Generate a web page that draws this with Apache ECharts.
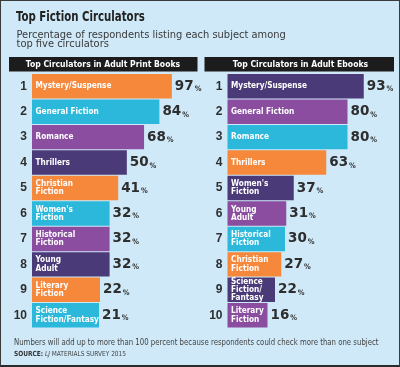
<!DOCTYPE html>
<html><head><meta charset="utf-8">
<script src="https://cdn.jsdelivr.net/npm/echarts@6/dist/echarts.min.js"></script>
<style>html,body{margin:0;padding:0;background:#cfe9f8;}#c{width:400px;height:367px;box-sizing:border-box;border:1px solid #3a3a3a;border-bottom:2px solid #2a2a2a;}</style>
</head><body><div id="c"></div>
<script>
const ranks = ['1','2','3','4','5','6','7','8','9','10'];
const printSubjects = ['Mystery/Suspense','General Fiction','Romance','Thrillers','Christian\nFiction',"Women's\nFiction",'Historical\nFiction','Young\nAdult','Literary\nFiction','Science\nFiction/Fantasy'];
const printValues = [97,84,68,50,41,32,32,32,22,21];
const ebookSubjects = ['Mystery/Suspense','General Fiction','Romance','Thrillers',"Women's\nFiction",'Young\nAdult','Historical\nFiction','Christian\nFiction','Science\nFiction/\nFantasy','Literary\nFiction'];
const ebookValues = [93,80,80,63,37,31,30,27,22,16];
const printColors = ['#f5883b','#2cb8db','#8a4d9f','#4a3a77','#f5883b','#2cb8db','#8a4d9f','#4a3a77','#f5883b','#2cb8db'];
const ebookColors = ['#4a3a77','#8a4d9f','#2cb8db','#f5883b','#4a3a77','#8a4d9f','#2cb8db','#f5883b','#4a3a77','#8a4d9f'];

const NARROW = '"DejaVu Sans Condensed","Liberation Sans Narrow",sans-serif';
const chart = echarts.init(document.getElementById('c'), null, {renderer:'canvas'});

function makeSeries(idx, subjects, values, colors){
  return [
    {type:'bar', xAxisIndex:idx, yAxisIndex:idx, barCategoryGap:'4%',
     data: values.map((v,i)=>({value:v, itemStyle:{color:colors[i]}})),
     label:{show:true, position:'insideLeft', distance:3.5, color:'#fff', fontFamily:NARROW, fontWeight:'bold', fontSize:8.2, lineHeight:8.2,
       formatter: p => subjects[p.dataIndex]},
     silent:true, animation:false},
    {type:'bar', xAxisIndex:idx, yAxisIndex:idx, barCategoryGap:'4%', barGap:'-100%',
     data: values, itemStyle:{color:'rgba(0,0,0,0)'},
     label:{show:true, position:'right', distance:3,
       formatter: p => '{v|'+p.value+'}{p|%}',
       rich:{v:{fontFamily:'"DejaVu Sans",sans-serif', fontWeight:'bold', fontSize:13.5, color:'#2e2e2e'},
             p:{fontFamily:NARROW, fontWeight:'bold', fontSize:7.5, color:'#2e2e2e', verticalAlign:'bottom', padding:[0,0,0,1]}}},
     silent:true, animation:false}
  ];
}

const yAxisCommon = {type:'category', data:ranks, inverse:true, axisLine:{show:false}, axisTick:{show:false},
  axisLabel:{margin:5, color:'#2e2e2e', fontFamily:'"Liberation Sans",Arial,sans-serif', fontWeight:'bold', fontSize:12}};

chart.setOption({
  animation:false,
  backgroundColor:'#cfe9f8',
  grid:[
    {left:31, top:72.5, width:152.3, height:254.5},
    {left:226.5, top:72.5, width:145, height:254.5}
  ],
  xAxis:[
    {gridIndex:0, type:'value', min:-49, max:110, startValue:-49, show:false},
    {gridIndex:1, type:'value', min:-16, max:100, startValue:-16, show:false}
  ],
  yAxis:[
    Object.assign({gridIndex:0}, yAxisCommon),
    Object.assign({gridIndex:1}, yAxisCommon)
  ],
  series:[...makeSeries(0, printSubjects, printValues, printColors), ...makeSeries(1, ebookSubjects, ebookValues, ebookColors)],
  graphic:[
    {type:'text', x:15, y:10, scaleX:0.86, style:{text:'Top Fiction Circulators', fontFamily:NARROW, fontWeight:'bold', fontSize:13.2, fill:'#222'}},
    {type:'text', x:15.5, y:29, style:{text:'Percentage of respondents listing each subject among\ntop five circulators', fontFamily:NARROW, fontSize:11, lineHeight:9.7, fill:'#3a3a3a'}},
    {type:'rect', shape:{x:8, y:56, width:188.5, height:14.5}, style:{fill:'#1c1c1c'}},
    {type:'text', x:102, y:63.5, scaleX:0.95, style:{text:'Top Circulators in Adult Print Books', align:'center', verticalAlign:'middle', fontFamily:NARROW, fontWeight:'bold', fontSize:9, fill:'#fff'}},
    {type:'rect', shape:{x:203.5, y:56, width:189.5, height:14.5}, style:{fill:'#1c1c1c'}},
    {type:'text', x:299.5, y:63.5, scaleX:0.95, style:{text:'Top Circulators in Adult Ebooks', align:'center', verticalAlign:'middle', fontFamily:NARROW, fontWeight:'bold', fontSize:9, fill:'#fff'}},
    {type:'text', x:13, y:337.5, scaleX:0.91, style:{text:'Numbers will add up to more than 100 percent because respondents could check more than one subject', fontFamily:NARROW, fontSize:8.5, fill:'#444'}},
    {type:'text', x:13, y:350, scaleX:0.93, style:{text:'{b|SOURCE:} {i|LJ} MATERIALS SURVEY 2015', fontFamily:NARROW, fontSize:7, fill:'#444',
      rich:{b:{fontFamily:NARROW, fontWeight:'bold', fontSize:7, fill:'#333'}, i:{fontFamily:NARROW, fontStyle:'italic', fontSize:7, fill:'#444'}}}}
  ]
});
</script></body></html>
